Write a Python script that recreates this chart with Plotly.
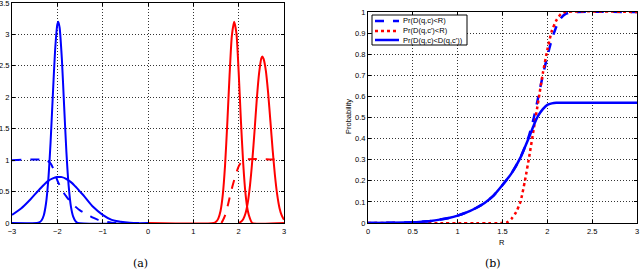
import plotly.graph_objects as go

# ---------- data ----------
# (a) left panel
blue_peak_x = [-3.0, -2.45, -2.4, -2.35, -2.3, -2.25, -2.2, -2.15, -2.1, -2.05, -2.0, -1.98, -1.95, -1.9, -1.85, -1.8, -1.75, -1.7, -1.65, -1.6, -1.55, 0.0]
blue_peak_y = [0.0, 0.0, 0.01, 0.04, 0.12, 0.31, 0.68, 1.27, 2.02, 2.74, 3.16, 3.2, 3.11, 2.61, 1.86, 1.13, 0.59, 0.26, 0.10, 0.03, 0.0, 0.0]

blue_wide_x = [-3.0, -2.8, -2.6, -2.4, -2.2, -2.1, -2.0, -1.95, -1.9, -1.8, -1.7, -1.6, -1.5, -1.4, -1.2, -1.0, -0.8, -0.6, -0.4, -0.2]
blue_wide_y = [0.13, 0.23, 0.37, 0.53, 0.67, 0.71, 0.73, 0.73, 0.73, 0.70, 0.65, 0.58, 0.50, 0.42, 0.25, 0.13, 0.05, 0.02, 0.005, 0.0]

blue_dash_x = [-3.0, -2.25, -2.2, -2.15, -2.1, -2.05, -2.0, -1.95, -1.9, -1.85, -1.8, -1.7, -1.6, -1.5, -1.4, -1.3, -1.2, -1.1, -1.0, -0.9, -0.8, -0.7]
blue_dash_y = [1.0, 1.0, 0.98, 0.95, 0.88, 0.78, 0.68, 0.60, 0.53, 0.47, 0.42, 0.33, 0.26, 0.20, 0.16, 0.12, 0.08, 0.05, 0.03, 0.015, 0.005, 0.0]

red_peak_x = [0.0, 1.45, 1.5, 1.55, 1.6, 1.65, 1.7, 1.75, 1.8, 1.85, 1.9, 1.95, 2.0, 2.05, 2.1, 2.15, 2.2, 2.25, 2.3, 3.0]
red_peak_y = [0.0, 0.0, 0.02, 0.07, 0.19, 0.45, 0.92, 1.60, 2.36, 2.98, 3.2, 3.02, 2.40, 1.62, 0.95, 0.47, 0.20, 0.07, 0.0, 0.0]

red_peak2_x = [2.0, 2.05, 2.1, 2.15, 2.2, 2.25, 2.3, 2.35, 2.4, 2.45, 2.5, 2.52, 2.55, 2.6, 2.65, 2.7, 2.75, 2.8, 2.85, 2.9, 2.95, 3.0]
red_peak2_y = [0.0, 0.02, 0.06, 0.15, 0.32, 0.60, 0.99, 1.46, 1.97, 2.38, 2.62, 2.65, 2.61, 2.42, 2.07, 1.62, 1.16, 0.76, 0.45, 0.24, 0.12, 0.05]

red_dash_x = [1.62, 1.65, 1.7, 1.75, 1.8, 1.85, 1.9, 1.95, 2.0, 2.05, 2.1, 3.0]
red_dash_y = [0.0, 0.04, 0.12, 0.25, 0.40, 0.55, 0.68, 0.80, 0.90, 0.96, 1.0, 1.0]

# (b) right panel
r_x = [0.0, 0.25, 0.5, 0.6, 0.7, 0.8, 0.9, 1.0, 1.1, 1.2, 1.3, 1.4, 1.5, 1.6, 1.7, 1.75, 1.8, 1.85, 1.9, 1.95, 2.0, 2.05, 2.1, 2.15, 2.2, 2.25, 2.3, 3.0]
pr_qc = [0.0, 0.001, 0.003, 0.006, 0.01, 0.016, 0.024, 0.035, 0.05, 0.07, 0.095, 0.13, 0.18, 0.235, 0.31, 0.36, 0.42, 0.50, 0.60, 0.70, 0.79, 0.87, 0.93, 0.97, 0.99, 0.997, 1.0, 1.0]
pr_both = [0.0, 0.001, 0.003, 0.006, 0.01, 0.016, 0.024, 0.035, 0.05, 0.07, 0.095, 0.13, 0.18, 0.235, 0.31, 0.36, 0.41, 0.465, 0.51, 0.54, 0.56, 0.567, 0.57, 0.57, 0.57, 0.57, 0.57, 0.57]
r2_x = [0.0, 1.5, 1.55, 1.6, 1.65, 1.7, 1.75, 1.8, 1.85, 1.9, 1.95, 2.0, 2.05, 2.1, 2.15, 2.2, 3.0]
pr_qc2 = [0.0, 0.0, 0.003, 0.02, 0.05, 0.10, 0.20, 0.32, 0.45, 0.58, 0.71, 0.82, 0.91, 0.96, 0.99, 1.0, 1.0]

legend_names = ["Pr(D(q,c)<R)", "Pr(D(q,c')<R)", "Pr(D(q,c)<D(q,c'))"]
xticks_a = [-3, -2, -1, 0, 1, 2, 3]
yticks_a = [0, 0.5, 1, 1.5, 2, 2.5, 3, 3.5]
xticks_b = [0, 0.5, 1, 1.5, 2, 2.5, 3]
yticks_b = [0, 0.1, 0.2, 0.3, 0.4, 0.5, 0.6, 0.7, 0.8, 0.9, 1]
x_title_b = "R"
y_title_b = "Probability"

BLUE = "#0000ff"
RED = "#ff0000"
FONT = "Liberation Sans, Arial"
FS = 7.5

fig = go.Figure()
# left panel
fig.add_trace(go.Scatter(x=blue_wide_x, y=blue_wide_y, mode="lines", line=dict(color=BLUE, width=2, shape="spline"), showlegend=False, xaxis="x", yaxis="y"))
fig.add_trace(go.Scatter(x=blue_dash_x, y=blue_dash_y, mode="lines", line=dict(color=BLUE, width=2, dash="dash", shape="spline"), showlegend=False, xaxis="x", yaxis="y"))
fig.add_trace(go.Scatter(x=blue_peak_x, y=blue_peak_y, mode="lines", line=dict(color=BLUE, width=2, shape="spline", smoothing=0.6), showlegend=False, xaxis="x", yaxis="y"))
fig.add_trace(go.Scatter(x=red_dash_x, y=red_dash_y, mode="lines", line=dict(color=RED, width=2, dash="dash", shape="spline"), showlegend=False, xaxis="x", yaxis="y"))
fig.add_trace(go.Scatter(x=red_peak_x, y=red_peak_y, mode="lines", line=dict(color=RED, width=2, shape="spline", smoothing=0.6), showlegend=False, xaxis="x", yaxis="y"))
fig.add_trace(go.Scatter(x=red_peak2_x, y=red_peak2_y, mode="lines", line=dict(color=RED, width=2, shape="spline", smoothing=0.6), showlegend=False, xaxis="x", yaxis="y"))

# right panel
styles = [dict(color=BLUE, dash="dash"), dict(color=RED, dash="dot"), dict(color=BLUE, dash="solid")]
fig.add_trace(go.Scatter(x=r_x, y=pr_qc, mode="lines", name=legend_names[0], showlegend=False,
                         line=dict(width=2.5, shape="spline", smoothing=0.6, **styles[0]), xaxis="x2", yaxis="y2"))
fig.add_trace(go.Scatter(x=r2_x, y=pr_qc2, mode="lines", name=legend_names[1], showlegend=False,
                         line=dict(width=2.5, shape="spline", smoothing=0.6, **styles[1]), xaxis="x2", yaxis="y2"))
fig.add_trace(go.Scatter(x=r_x, y=pr_both, mode="lines", name=legend_names[2], showlegend=False,
                         line=dict(width=2.5, shape="spline", smoothing=0.6, **styles[2]), xaxis="x2", yaxis="y2"))

W, H = 640, 278
axis_common = dict(showline=True, linecolor="black", linewidth=1, mirror="ticks",
                   ticks="inside", ticklen=3, tickcolor="black", automargin=False,
                   ticklabeloverflow="allow",
                   showgrid=True, gridcolor="#333333", griddash="1px,2px", gridwidth=1,
                   zeroline=False, tickfont=dict(family=FONT, size=FS, color="black"))

# compact MATLAB-style legend box (drawn in paper coordinates)
lx0, lx1, ly0, ly1 = 372, 467, 15, 45
row_y = [21, 31, 40]
shapes = [dict(type="rect", xref="paper", yref="paper",
               x0=lx0 / W, x1=lx1 / W, y0=1 - ly1 / H, y1=1 - ly0 / H,
               line=dict(color="black", width=1), fillcolor="white", layer="above")]
annotations = []
for name, st, ry in zip(legend_names, styles, row_y):
    shapes.append(dict(type="line", xref="paper", yref="paper",
                       x0=375 / W, x1=399 / W, y0=1 - ry / H, y1=1 - ry / H,
                       line=dict(color=st["color"], width=2.5, dash=st["dash"]), layer="above"))
    annotations.append(dict(text=name, x=401 / W, y=1 - ry / H, xref="paper", yref="paper",
                            xanchor="left", yanchor="middle", showarrow=False,
                            font=dict(family=FONT, size=FS, color="black")))

annotations += [
    dict(text=x_title_b, x=502 / W, y=(H - 242) / H, xref="paper", yref="paper", showarrow=False,
         xanchor="center", yanchor="middle", font=dict(family=FONT, size=FS, color="black")),
    dict(text=y_title_b, x=348 / W, y=(H - 117) / H, xref="paper", yref="paper", showarrow=False,
         textangle=-90, xanchor="center", yanchor="middle", font=dict(family=FONT, size=FS, color="black")),
    dict(text="(a)", x=140 / W, y=(H - 263) / H, xref="paper", yref="paper", showarrow=False,
         xanchor="center", yanchor="middle",
         font=dict(family="DejaVu Serif, Liberation Serif", size=11, color="black")),
    dict(text="(b)", x=493 / W, y=(H - 263) / H, xref="paper", yref="paper", showarrow=False,
         xanchor="center", yanchor="middle",
         font=dict(family="DejaVu Serif, Liberation Serif", size=11, color="black")),
]

fig.update_layout(
    width=W, height=H, margin=dict(l=0, r=0, t=0, b=0, autoexpand=False),
    paper_bgcolor="white", plot_bgcolor="white", showlegend=False,
    xaxis=dict(domain=[12 / W, 284 / W], range=[-3, 3], tickvals=xticks_a, anchor="y",
               ticklabelstandoff=1, **axis_common),
    yaxis=dict(domain=[55 / H, 275 / H], range=[0, 3.5], tickvals=yticks_a, anchor="x", **axis_common),
    xaxis2=dict(domain=[368 / W, 637 / W], range=[0, 3], tickvals=xticks_b, anchor="y2",
                ticklabelstandoff=1, **axis_common),
    yaxis2=dict(domain=[55 / H, 266 / H], range=[0, 1], tickvals=yticks_b, anchor="x2", **axis_common),
    shapes=shapes,
    annotations=annotations,
)

# remove the browser's default 8px page margin so the figure sits at the window origin
fig.write_html("out.html", config={"displayModeBar": False},
               post_script="document.body.style.margin='0';document.body.style.overflow='hidden';")
